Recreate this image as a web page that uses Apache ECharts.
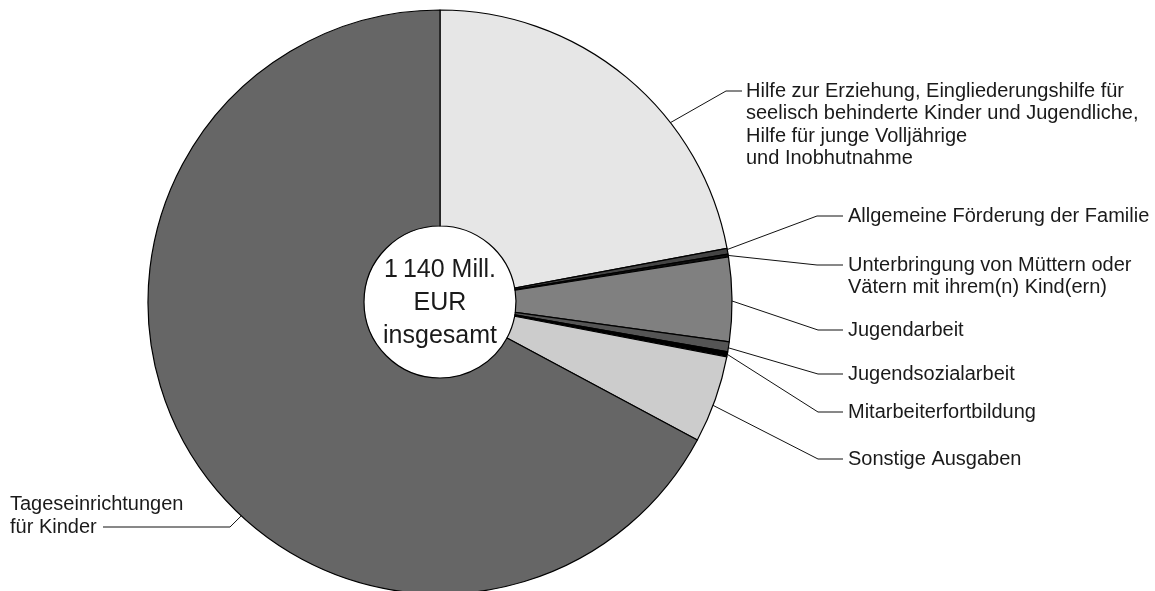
<!DOCTYPE html>
<html><head><meta charset="utf-8">
<script src="https://cdn.jsdelivr.net/npm/echarts@6/dist/echarts.min.js"></script>
<style>html,body{margin:0;padding:0;background:#fff}#c{width:1155px;height:591px}</style>
</head><body><div id="c"></div>
<script>
// ---- data (Mill. EUR), clockwise from 12 o'clock ----
const categories = [
  'Hilfe zur Erziehung, Eingliederungshilfe für seelisch behinderte Kinder und Jugendliche, Hilfe für junge Volljährige und Inobhutnahme',
  'Allgemeine Förderung der Familie',
  'Unterbringung von Müttern oder Vätern mit ihrem(n) Kind(ern)',
  'Jugendarbeit',
  'Jugendsozialarbeit',
  'Mitarbeiterfortbildung',
  'Sonstige Ausgaben',
  'Tageseinrichtungen für Kinder'
];
const values = [251.5, 3.6, 1.7, 53, 6.3, 3.2, 55, 765.7];
const labelLines = [
  'Hilfe zur Erziehung, Eingliederungshilfe für\nseelisch behinderte Kinder und Jugendliche,\nHilfe für junge Volljährige\nund Inobhutnahme',
  'Allgemeine Förderung der Familie',
  'Unterbringung von Müttern oder\nVätern mit ihrem(n) Kind(ern)',
  'Jugendarbeit',
  'Jugendsozialarbeit',
  'Mitarbeiterfortbildung',
  'Sonstige Ausgaben',
  'Tageseinrichtungen\nfür Kinder'
];
const centerText = ['1\u2009140 Mill.', 'EUR', 'insgesamt'];

// ---- styles / layout ----
const colors = ['#e6e6e6', '#444444', '#111111', '#808080', '#555555', '#000000', '#cccccc', '#666666'];
const CX = 440, CY = 302, R0 = 76, R = 292;
const LH = 22.5;
// f: anchor position within slice; ex/ey: elbow; hx: end of horizontal; lx: label x; line: which text line the leader meets
const leaders = [
  { f: 0.656, ex: 726, ey: 91,  hx: 742, lx: 746, line: 1 },
  { f: 0.2,   ex: 817, ey: 216, hx: 843, lx: 848, line: 1 },
  { f: 0.5,   ex: 817, ey: 265, hx: 843, lx: 848, line: 1 },
  { f: 0.52,  ex: 818, ey: 330, hx: 843, lx: 848, line: 1 },
  { f: 0.6,   ex: 818, ey: 374, hx: 843, lx: 848, line: 1 },
  { f: 0.5,   ex: 818, ey: 412, hx: 843, lx: 848, line: 1 },
  { f: 0.57,  ex: 818, ey: 459, hx: 843, lx: 848, line: 1 },
  { f: 0.433, ex: 230, ey: 527, hx: 103, lx: 10,  line: 2 }
];

const total = values.reduce((a, b) => a + b, 0);
const starts = [];
values.reduce((acc, v, i) => { starts[i] = acc; return acc + v; }, 0);

const chart = echarts.init(document.getElementById('c'), null, { renderer: 'canvas' });
chart.setOption({
  animation: false,
  backgroundColor: '#ffffff',
  series: [{
    type: 'pie',
    center: [CX, CY],
    radius: [R0, R],
    startAngle: 90,
    clockwise: true,
    avoidLabelOverlap: false,
    silent: true,
    emphasis: { disabled: true },
    itemStyle: { borderColor: '#000', borderWidth: 1.2 },
    label: {
      show: true,
      position: 'outside',
      formatter: p => labelLines[p.dataIndex],
      fontFamily: 'Liberation Sans',
      fontSize: 20,
      lineHeight: LH,
      color: '#1a1a1a',
      overflow: 'none'
    },
    labelLine: { show: true, smooth: false, lineStyle: { color: '#111', width: 1 } },
    labelLayout: function (params) {
      const i = params.dataIndex;
      const L = leaders[i];
      const ang = (starts[i] + L.f * values[i]) / total * 2 * Math.PI;
      const sx = CX + R * Math.sin(ang);
      const sy = CY - R * Math.cos(ang);
      const top = L.ey - LH / 2 - (L.line - 1) * LH;
      return {
        x: L.lx,
        y: top,
        align: 'left',
        verticalAlign: 'top',
        labelLinePoints: [[sx, sy], [L.ex, L.ey], [L.hx, L.ey]]
      };
    },
    data: categories.map((n, i) => ({ name: n, value: values[i], itemStyle: { color: colors[i] } }))
  }],
  graphic: [{
    type: 'text',
    x: CX,
    y: CY + 1,
    z: 100,
    style: {
      text: centerText.join('\n'),
      fontFamily: 'Liberation Sans',
      fontSize: 25,
      lineHeight: 33,
      fill: '#1a1a1a',
      align: 'center',
      verticalAlign: 'middle',
      textAlign: 'center',
      textVerticalAlign: 'middle'
    }
  }]
});
</script>
</body></html>
